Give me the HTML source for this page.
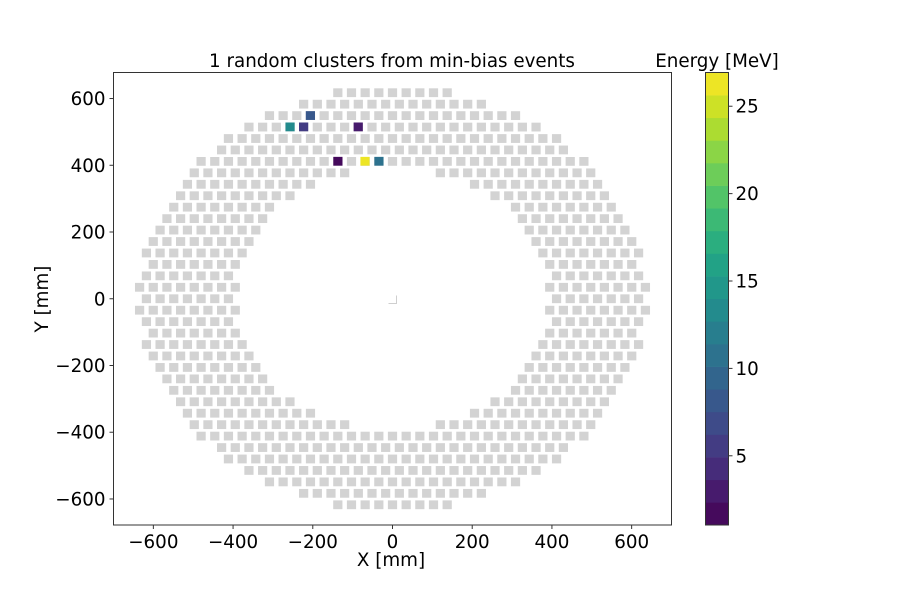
<!DOCTYPE html>
<html><head><meta charset="utf-8">
<style>
body{margin:0;background:#fff;}
svg text{font-family:"DejaVu Sans","Liberation Sans",sans-serif;fill:#000;}
</style></head>
<body>
<svg id="chart" width="900" height="600" viewBox="0 0 900 600" xmlns="http://www.w3.org/2000/svg">
  <rect x="0" y="0" width="900" height="600" fill="#fff"/>
  <text x="392" y="67" font-size="18.3" text-anchor="middle">1 random clusters from min-bias events</text>
  <g id="cells"></g>
  <g id="hits"></g>
  <path d="M388.5 303.5 H396.5 V295.5" stroke="#cfcfcf" stroke-width="1" fill="none"/>
  <rect x="113.5" y="72.5" width="558" height="452.5" fill="none" stroke="#333" stroke-width="1"/>
  <g id="xaxis"></g>
  <g id="yaxis"></g>
  <text x="391" y="566" font-size="18.3" text-anchor="middle">X [mm]</text>
  <text x="48" y="299" font-size="18.3" text-anchor="middle" transform="rotate(-90 48 299)">Y [mm]</text>
  <g id="cbar"></g>
  <text x="717" y="67" font-size="18.3" text-anchor="middle">Energy [MeV]</text>
</svg>
<script>
// ---- data ----
const hitX = [-206, -257, -223, -86, -137, -69, -34];
const hitY = [549, 515, 515, 515, 412, 412, 412];
const hitE = [8.6, 13.2, 5.2, 3.4, 1.6, 26.5, 10.4];
const xTicks = [-600, -400, -200, 0, 200, 400, 600];
const yTicks = [600, 400, 200, 0, -200, -400, -600];
const cbTicks = [5, 10, 15, 20, 25];
const eMin = 1.04, eMax = 26.93, nLevels = 20;

// ---- geometry ----
const NS = "http://www.w3.org/2000/svg";
const X0 = 113.5, X1 = 671.5, Y0 = 72.5, Y1 = 525;
const xMin = -700, xMax = 700, yMin = -678, yMax = 678;
function sx(v){ return X0 + (v - xMin) / (xMax - xMin) * (X1 - X0); }
function sy(v){ return Y1 - (v - yMin) / (yMax - yMin) * (Y1 - Y0); }
const CW = 9.2, CH = 8.8;
const pitch = 34.3, rIn = 392, rOut = 636.4;

const vir = ["#440154","#482475","#414487","#355f8d","#2a788e","#21918c","#22a884","#44bf70","#7ad151","#bddf26","#fde725"];
function hex(c){return [parseInt(c.substr(1,2),16),parseInt(c.substr(3,2),16),parseInt(c.substr(5,2),16)];}
function viridis(t){
  t=Math.max(0,Math.min(1,t)); const f=t*10, i=Math.min(9,Math.floor(f)), r=f-i;
  const a=hex(vir[i]), b=hex(vir[i+1]);
  return "rgb("+a.map((v,k)=>Math.round(v+(b[k]-v)*r)).join(",")+")";
}
function levelColor(e){
  let lv=Math.floor((e-eMin)/(eMax-eMin)*nLevels); lv=Math.max(0,Math.min(nLevels-1,lv));
  return viridis((lv+0.5)/nLevels);
}
function mk(tag, attrs, parent){
  const el=document.createElementNS(NS,tag);
  for(const k in attrs) el.setAttribute(k, attrs[k]);
  parent.appendChild(el); return el;
}

// grey cells
const cells=document.getElementById('cells');
for(let k=-19;k<=19;k++){
  const y=k*pitch, off=(Math.abs(k)%2)?0.5:0;
  for(let j=-20;j<=20;j++){
    const x=(j+off)*pitch, r=Math.hypot(x,y);
    if(r>rIn && r<rOut){
      const c=mk('rect',{x:(sx(x)-CW/2).toFixed(2),y:(sy(y)-CH/2).toFixed(2),width:CW,height:CH,fill:'#d3d3d3'},cells);
      
      
    }
  }
}
// hits
const hits=document.getElementById('hits');
for(let i=0;i<hitX.length;i++){
  const h=mk('rect',{x:(sx(hitX[i])-CW/2).toFixed(2),y:(sy(hitY[i])-CH/2).toFixed(2),width:CW,height:CH,fill:levelColor(hitE[i])},hits);
  
  
}
// axes
const xa=document.getElementById('xaxis');
xTicks.forEach(v=>{
  const x=sx(v);
  const t=mk('line',{x1:x,x2:x,y1:Y1,y2:Y1+4,stroke:'#333'},xa);
  
  
  const l=mk('text',{x:x,y:Y1+23,'font-size':18.3,'text-anchor':'middle'},xa);
  l.textContent=(v<0?'\u2212'+(-v):''+v);
  
  
});
const ya=document.getElementById('yaxis');
yTicks.forEach(v=>{
  const y=sy(v);
  const t=mk('line',{x1:X0-4,x2:X0,y1:y,y2:y,stroke:'#333'},ya);
  
  
  const l=mk('text',{x:X0-8,y:y+6.5,'font-size':18.3,'text-anchor':'end'},ya);
  l.textContent=(v<0?'\u2212'+(-v):''+v);
  
  
});
// colorbar
const cb=document.getElementById('cbar');
const CBX=705.5, CBW=23, CBT=72.5, CBB=525;
for(let i=0;i<nLevels;i++){
  const h=(CBB-CBT)/nLevels;
  const r=mk('rect',{x:CBX,y:(CBB-(i+1)*h).toFixed(2),width:CBW,height:(h+0.3).toFixed(2),fill:viridis((i+0.5)/nLevels)},cb);
  
  
}
mk('rect',{x:CBX,y:CBT,width:CBW,height:CBB-CBT,fill:'none',stroke:'#333','stroke-width':1},cb);
function cy(v){return CBB-(v-eMin)/(eMax-eMin)*(CBB-CBT);}
cbTicks.forEach(v=>{
  const y=cy(v);
  const t=mk('line',{x1:CBX+CBW,x2:CBX+CBW+4,y1:y,y2:y,stroke:'#333'},cb);
  
  
  const l=mk('text',{x:CBX+CBW+7,y:y+6.5,'font-size':18.3},cb);
  l.textContent=''+v;
  
  
});
</script>
</body></html>
